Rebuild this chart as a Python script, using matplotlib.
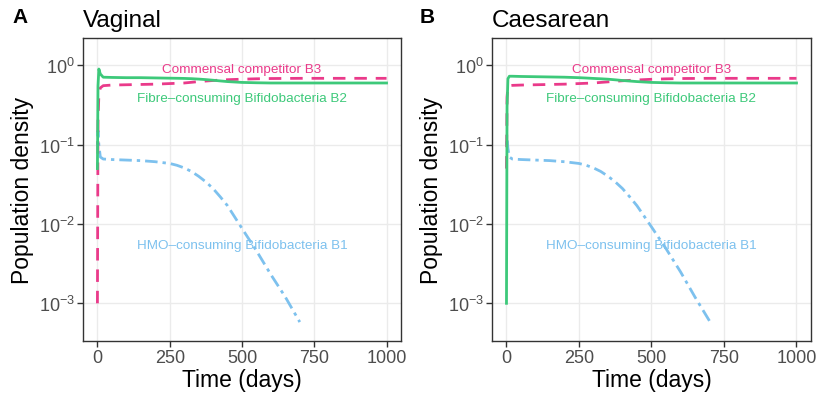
import matplotlib

matplotlib.use('Agg')

import numpy as np
import matplotlib.pyplot as plt

plt.rcParams['font.family'] = ['Liberation Sans', 'DejaVu Sans']
plt.rcParams['mathtext.fontset'] = 'custom'
plt.rcParams['mathtext.rm'] = 'Liberation Sans'
plt.rcParams['mathtext.it'] = 'Liberation Sans:italic'
plt.rcParams['mathtext.bf'] = 'Liberation Sans:bold'

# time points (days)
t = [0, 2, 5, 10, 20, 50, 100, 150, 200, 250, 275, 300, 325, 350, 375, 400,
     425, 450, 500, 550, 600, 650, 700, 750, 800, 900, 1000]

# Vaginal birth
vag_b1 = [0.10, 0.15, 0.10, 0.07, 0.066, 0.065, 0.064, 0.063, 0.061, 0.058,
          0.055, 0.051, 0.046, 0.040, 0.034, 0.028, 0.022, 0.017, 0.0088,
          0.0046, 0.0023, 0.0012, 0.00058, np.nan, np.nan, np.nan, np.nan]
vag_b2 = [0.05, 0.55, 0.90, 0.78, 0.71, 0.705, 0.70, 0.70, 0.695, 0.69,
          0.688, 0.685, 0.68, 0.672, 0.662, 0.65, 0.637, 0.625, 0.61, 0.604,
          0.60, 0.60, 0.60, 0.60, 0.60, 0.60, 0.60]
vag_b3 = [0.001, 0.20, 0.42, 0.52, 0.555, 0.565, 0.57, 0.575, 0.58, 0.59,
          0.595, 0.60, 0.612, 0.625, 0.635, 0.645, 0.653, 0.66, 0.67, 0.678,
          0.683, 0.685, 0.687, 0.687, 0.687, 0.687, 0.687]

# Caesarean birth
cae_b1 = [0.10, 0.12, 0.09, 0.07, 0.066, 0.065, 0.064, 0.063, 0.061, 0.058,
          0.055, 0.051, 0.046, 0.040, 0.034, 0.028, 0.022, 0.017, 0.0092,
          0.0049, 0.0025, 0.0012, 0.00060, np.nan, np.nan, np.nan, np.nan]
cae_b2 = [0.001, 0.30, 0.68, 0.73, 0.73, 0.725, 0.72, 0.715, 0.71, 0.70,
          0.693, 0.685, 0.678, 0.67, 0.658, 0.645, 0.635, 0.625, 0.61, 0.604,
          0.60, 0.60, 0.60, 0.60, 0.60, 0.60, 0.60]
cae_b3 = [0.05, 0.40, 0.53, 0.555, 0.56, 0.565, 0.57, 0.575, 0.58, 0.59,
          0.595, 0.60, 0.61, 0.62, 0.63, 0.64, 0.648, 0.655, 0.668, 0.677,
          0.683, 0.685, 0.687, 0.687, 0.687, 0.687, 0.687]

labels = ['Commensal competitor B3', 'Fibre\u2013consuming Bifidobacteria B2',
          'HMO\u2013consuming Bifidobacteria B1']
label_y = [0.9, 0.39, 0.0054]
label_x = 500

c_b1 = '#7DC1EE'
c_b2 = '#3DC97A'
c_b3 = '#EA3A8A'

fig = plt.figure(figsize=(8.19, 4.02), dpi=100)
ax_a = fig.add_axes([0.1013, 0.1493, 0.3883, 0.753])
ax_b = fig.add_axes([0.6007, 0.1493, 0.3895, 0.753])


def panel(ax, b1, b2, b3, title, tag, tag_x):
    ax.plot(t, b1, color=c_b1, lw=2.0, dashes=[1.2, 1.8, 4.5, 1.8])
    ax.plot(t, b3, color=c_b3, lw=2.0, dashes=[4.5, 3.2])
    ax.plot(t, b2, color=c_b2, lw=2.0)
    for txt, yy, cc in zip(labels, label_y, [c_b3, c_b2, c_b1]):
        ax.text(label_x, yy, txt, color=cc, fontsize=9.7, ha='center', va='center')

    ax.set_yscale('log')
    ax.set_ylim(10 ** -3.475, 10 ** 0.342)
    ax.set_xlim(-50, 1050)
    ax.set_xticks([0, 250, 500, 750, 1000])
    ax.set_yticks([1e-3, 1e-2, 1e-1, 1e0])
    ax.set_yticklabels([r'$10^{-3}$', r'$10^{-2}$', r'$10^{-1}$', r'$10^{0}$'])
    ax.minorticks_off()
    ax.grid(True, color='#EBEBEB', lw=1.0)
    ax.set_axisbelow(True)
    for s in ax.spines.values():
        s.set_color('#333333')
        s.set_linewidth(1.0)
    ax.tick_params(colors='#333333', labelcolor='#4D4D4D', labelsize=13,
                   length=4, width=1.0, pad=2)
    ax.set_xlabel('Time (days)', fontsize=16.5, labelpad=1)
    ax.set_ylabel('Population density', fontsize=16.5, labelpad=3)
    ax.set_title(title, fontsize=17.5, loc='left', pad=9)
    fig.text(tag_x, 1 - 23 / 402, tag, fontsize=15, fontweight='bold',
             va='baseline', ha='left')


panel(ax_a, vag_b1, vag_b2, vag_b3, 'Vaginal', 'A', 12 / 819)
panel(ax_b, cae_b1, cae_b2, cae_b3, 'Caesarean', 'B', 420 / 819)

plt.savefig('out.png', dpi=100)
plt.close()
